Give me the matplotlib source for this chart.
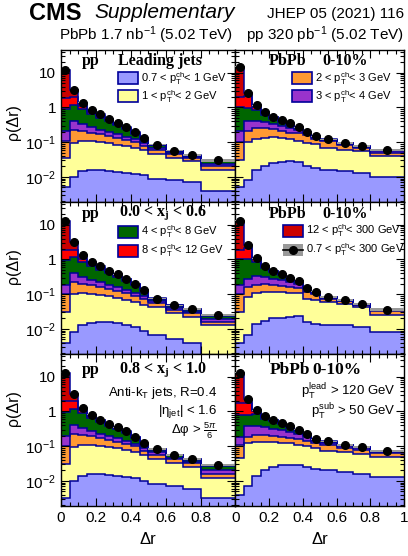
import numpy as np
import matplotlib.pyplot as plt
from matplotlib.patches import Rectangle
from matplotlib.lines import Line2D
from matplotlib.ticker import MultipleLocator, LogLocator, FuncFormatter, NullFormatter

plt.rcParams['font.family'] = ['Liberation Sans', 'DejaVu Sans']
plt.rcParams['mathtext.fontset'] = 'custom'
plt.rcParams['mathtext.rm'] = 'Liberation Sans'
plt.rcParams['mathtext.it'] = 'Liberation Sans:italic'
plt.rcParams['mathtext.bf'] = 'Liberation Sans:bold'

# delta r binning
dr_edges = [0, .05, .1, .15, .2, .25, .3, .35, .4, .45, .5, .6, .7, .8, 1.0]

pt_bins = ['0.7 < p$_{\\rm T}^{\\rm ch}$< 1 GeV', '1 < p$_{\\rm T}^{\\rm ch}$< 2 GeV',
           '2 < p$_{\\rm T}^{\\rm ch}$< 3 GeV', '3 < p$_{\\rm T}^{\\rm ch}$< 4 GeV',
           '4 < p$_{\\rm T}^{\\rm ch}$< 8 GeV', '8 < p$_{\\rm T}^{\\rm ch}$< 12 GeV',
           '12 < p$_{\\rm T}^{\\rm ch}$< 300 GeV']
all_label = '0.7 < p$_{\\rm T}^{\\rm ch}$< 300 GeV'
colors = ['#9999ff', '#ffff99', '#ff9933', '#9933cc', '#006600', '#ff0000', '#cc0000']
navy = '#000099'

# ---- pp, leading jets
pp_lead = [
    [.005, .010, .015, .016, .016, .015, .014, .013, .012, .011, .009, .008, .007, .004],
    [.030, .085, .095, .089, .084, .077, .071, .064, .056, .047, .036, .028, .022, .012],
    [.072, .135, .10, .085, .07, .058, .045, .038, .030, .022, .013, .010, .005, .004],
    [.103, .18, .12, .08, .06, .05, .04, .03, .022, .015, .009, .004, .003, .003],
    [.70, .79, .57, .38, .27, .20, .14, .095, .055, .025, .015, .005, .003, .005],
    [.99, .8, .2, .1, .07, .05, .035, .022, .013, .006, .002, .001, .001, .001],
    [10.1, 1.2, .28, .1, .06, .03, .015, .008, .007, .004, .001, .001, .001, .001]]
pp_lead_data = [12, 3.2, 1.38, 0.85, 0.63, 0.48, 0.36, 0.27, 0.195, 0.13, 0.085, 0.057, 0.042, 0.030]

# ---- PbPb 0-10%, leading jets
pbpb_lead = [
    [.005, .008, .016, .021, .025, .027, .028, .027, .020, .018, .016, .015, .013, .010],
    [.026, .092, .104, .109, .115, .108, .092, .083, .075, .068, .054, .046, .041, .030],
    [.069, .11, .14, .12, .10, .075, .07, .07, .065, .039, .035, .024, .013, .010],
    [.11, .19, .14, .14, .10, .08, .07, .05, .025, .015, .008, .005, .005, .006],
    [.79, .55, .45, .23, .13, .10, .06, .03, .01, .007, .005, .004, .003, .002],
    [1.0, 1.15, .15, .08, .05, .03, .02, .007, .003, .002, .001, .001, .001, .001],
    [13, .5, .15, .04, .02, .01, .01, .003, .002, .001, .001, .001, .0005, .0005]]
pbpb_lead_data = [15, 2.6, 1.15, .74, .54, .43, .35, .27, .20, .15, .12, .096, .076, .059]

# ---- pp, 0.0 < xj < 0.6
pp_xj1 = [
    [.004, .008, .013, .015, .016, .016, .015, .013, .011, .009, .0066, .005, .004, .0017],
    [.027, .092, .092, .085, .079, .072, .065, .057, .049, .041, .0364, .023, .018, .0109],
    [.073, .13, .095, .08, .065, .052, .04, .035, .03, .025, .012, .008, .006, .0034],
    [.076, .17, .12, .08, .06, .05, .04, .03, .02, .015, .008, .005, .003, .003],
    [.80, .75, .53, .37, .28, .21, .16, .11, .07, .035, .01, .006, .005, .005],
    [.92, .75, .2, .11, .07, .05, .035, .025, .015, .007, .002, .001, .001, .001],
    [10.6, 1.3, .3, .11, .06, .03, .015, .01, .005, .003, .0005, .0005, .0005, .0005]]
pp_xj1_data = [12.5, 3.2, 1.35, 0.85, 0.63, 0.48, 0.37, 0.28, 0.2, 0.135, 0.075, 0.048, 0.037, 0.025]

# ---- PbPb 0-10%, 0.0 < xj < 0.6
pbpb_xj1 = [
    [.004, .0065, .014, .017, .02, .021, .022, .023, .016, .014, .013, .013, .011, .008],
    [.027, .0765, .096, .098, .095, .091, .088, .082, .059, .056, .047, .04, .032, .018],
    [.069, .077, .08, .085, .075, .058, .05, .045, .04, .03, .015, .009, .005, .007],
    [.08, .12, .14, .11, .08, .08, .06, .05, .025, .01, .005, .003, .002, .002],
    [.82, .72, .52, .27, .17, .11, .07, .035, .008, .006, .002, .001, .0005, .0005],
    [.9, 1.1, .15, .05, .02, .015, .007, .003, .001, .001, .001, .001, .001, .001],
    [11.1, .5, .07, .02, .01, .005, .003, .002, .001, .0005, .0005, .0005, .0005, .0005]]
pbpb_xj1_data = [13, 2.6, 1.07, .65, .47, .38, .30, .24, .15, .117, .083, .067, .051, .036]

# ---- pp, 0.8 < xj < 1.0
pp_xj2 = [
    [.0033, .0098, .014, .016, .016, .015, .014, .013, .012, .010, .008, .007, .006, .0033],
    [.028, .085, .095, .09, .085, .078, .072, .064, .056, .045, .035, .026, .02, .009],
    [.07, .13, .10, .085, .07, .055, .045, .038, .03, .02, .014, .009, .006, .004],
    [.10, .18, .12, .08, .06, .045, .04, .03, .02, .015, .009, .005, .004, .004],
    [.75, .8, .55, .37, .26, .18, .14, .1, .055, .025, .014, .007, .005, .007],
    [1.0, .8, .2, .1, .06, .04, .03, .018, .012, .003, .002, .001, .0005, .001],
    [11.0, 1.1, .18, .07, .03, .017, .009, .007, .005, .002, .001, .001, .0005, .0007]]
pp_xj2_data = [13, 3.1, 1.26, 0.81, 0.58, 0.43, 0.35, 0.27, 0.19, 0.12, 0.083, 0.056, 0.042, 0.029]

# ---- PbPb 0-10%, 0.8 < xj < 1.0
pbpb_xj2 = [
    [.004, .007, .014, .02, .026, .029, .029, .028, .025, .022, .02, .018, .016, .0134],
    [.041, .113, .116, .11, .104, .096, .091, .082, .075, .068, .055, .05, .044, .0366],
    [.065, .07, .08, .08, .07, .065, .055, .05, .04, .03, .03, .022, .02, .013],
    [.08, .18, .16, .14, .12, .11, .085, .07, .04, .025, .02, .013, .008, .005],
    [.62, .43, .48, .27, .20, .13, .085, .055, .03, .012, .01, .005, .004, .004],
    [.95, .9, .15, .08, .05, .03, .015, .01, .007, .002, .001, .001, .001, .001],
    [11.2, .65, .07, .03, .01, .01, .01, .005, .003, .001, .001, .001, .001, .0005]]
pbpb_xj2_data = [13, 2.35, 1.07, .73, .58, .47, .37, .30, .22, .16, .137, .11, .094, .073]

sys_rel = [.02, .02, .02, .02, .02, .02, .02, .02, .03, .03, .04, .05, .06, .08]

W, H = 408.0, 556.0
fig = plt.figure(figsize=(W / 100, H / 100), dpi=100)


def fx(x):
    return x / W


def fy(y):
    return 1 - y / H


cols = [(61, 235.5), (235.5, 404)]
rows = [(50, 202), (202, 354), (354, 506)]
panels = [[(pp_lead, pp_lead_data), (pbpb_lead, pbpb_lead_data)],
          [(pp_xj1, pp_xj1_data), (pbpb_xj1, pbpb_xj1_data)],
          [(pp_xj2, pp_xj2_data), (pbpb_xj2, pbpb_xj2_data)]]

edges = np.array(dr_edges)
centers = 0.5 * (edges[1:] + edges[:-1])
widths = np.diff(edges)

ylab = {10: '10', 1: '1', 0.1: '$10^{-1}$', 0.01: '$10^{-2}$'}

for r, (y0, y1) in enumerate(rows):
    for c, (x0, x1) in enumerate(cols):
        comps, data = panels[r][c]
        ax = fig.add_axes([fx(x0), fy(y1), (x1 - x0) / W, (y1 - y0) / H])
        ax.set_yscale('log')
        base = np.full(len(centers), 1e-5)
        tops = []
        for comp, col in zip(comps, colors):
            top = base + np.array(comp)
            ax.stairs(top, edges, baseline=base, fill=True, color=col, lw=0)
            tops.append(top)
            base = top
        for top in tops:
            ax.stairs(top, edges, baseline=None, color=navy, lw=1.1)
        d = np.array(data)
        err = d * np.array(sys_rel)
        ax.bar(centers, 2 * err, bottom=d - err, width=widths, color='#999999', lw=0, zorder=3)
        ax.plot(centers, d, 'o', color='black', ms=5.5, zorder=4)

        ax.set_xlim(0, 1)
        ax.set_ylim(0.0019, 45)
        ax.xaxis.set_major_locator(MultipleLocator(0.2))
        ax.xaxis.set_minor_locator(MultipleLocator(0.05))
        ax.yaxis.set_major_locator(LogLocator(base=10, numticks=10))
        ax.yaxis.set_minor_locator(LogLocator(base=10, subs=np.arange(2, 10), numticks=10))
        ax.yaxis.set_minor_formatter(NullFormatter())
        ax.tick_params(which='both', direction='in', top=True, right=True, labelsize=11, width=0.8)
        ax.tick_params(which='major', length=6)
        ax.tick_params(which='minor', length=3)
        for s in ax.spines.values():
            s.set_linewidth(1.0)
        if c == 0:
            ax.yaxis.set_major_formatter(FuncFormatter(lambda v, p: ylab.get(round(v, 6), '')))
        else:
            ax.set_yticklabels([])
        if r == 2:
            if c == 0:
                ax.xaxis.set_major_formatter(FuncFormatter(lambda v, p: '' if v > 0.9 else '%g' % v))
            else:
                ax.xaxis.set_major_formatter(FuncFormatter(lambda v, p: '%g' % v))
        else:
            ax.set_xticklabels([])

# header
fig.text(fx(29), fy(13), 'CMS', fontsize=17, fontweight='bold', va='center', ha='left')
fig.text(fx(94), fy(13), 'Supplementary', fontsize=15, style='italic', va='center', ha='left')
fig.text(fx(404), fy(14), 'JHEP 05 (2021) 116', fontsize=11, va='center', ha='right')
fig.text(fx(59), fy(35), 'PbPb 1.7 nb$^{-1}$ (5.02 TeV)', fontsize=11, va='center', ha='left')
fig.text(fx(404), fy(35), 'pp 320 pb$^{-1}$ (5.02 TeV)', fontsize=11, va='center', ha='right')

# axis titles
for yc in [122, 266, 408]:
    fig.text(fx(13), fy(yc), 'ρ(Δr)', fontsize=11.5, rotation=90, va='center', ha='center')
for xc in [148, 320]:
    fig.text(fx(xc), fy(540), 'Δr', fontsize=12, va='center', ha='center')

# panel titles
serif = dict(family='Liberation Serif', fontweight='bold', va='center', ha='left',
             math_fontfamily='stix')
fig.text(fx(82), fy(61), 'pp', fontsize=11.5, **serif)
fig.text(fx(118), fy(61), 'Leading jets', fontsize=11.5, **serif)
fig.text(fx(269), fy(61), 'PbPb', fontsize=11.5, **serif)
fig.text(fx(322), fy(61), '0-10%', fontsize=11.5, **serif)
fig.text(fx(82), fy(214), 'pp', fontsize=11.5, **serif)
fig.text(fx(119), fy(214), '0.0 < x$_{\\mathbf{j}}$ < 0.6', fontsize=11.5, **serif)
fig.text(fx(269), fy(214), 'PbPb', fontsize=11.5, **serif)
fig.text(fx(322), fy(214), '0-10%', fontsize=11.5, **serif)
fig.text(fx(82), fy(370), 'pp', fontsize=11.5, **serif)
fig.text(fx(119), fy(370), '0.8 < x$_{\\mathbf{j}}$ < 1.0', fontsize=11.5, **serif)
fig.text(fx(270), fy(370), 'PbPb', fontsize=12.5, **serif)
fig.text(fx(312), fy(370), '0-10%', fontsize=12.5, **serif)


# legends
def box(x, y, i):
    fig.add_artist(Rectangle((fx(x), fy(y + 6)), 20 / W, 12 / H, transform=fig.transFigure,
                             facecolor=colors[i], edgecolor=navy, lw=1.2))


leg = dict(fontsize=8, va='center', ha='left')
box(118, 78, 0)
fig.text(fx(141), fy(79), pt_bins[0], **leg)
box(118, 96, 1)
fig.text(fx(141), fy(97), pt_bins[1], **leg)
box(292, 78, 2)
fig.text(fx(315), fy(79), pt_bins[2], **leg)
box(292, 96, 3)
fig.text(fx(315), fy(97), pt_bins[3], **leg)
box(118, 232, 4)
fig.text(fx(141), fy(232), pt_bins[4], **leg)
box(118, 251, 5)
fig.text(fx(141), fy(251), pt_bins[5], **leg)
box(283, 231, 6)
fig.text(fx(306), fy(231), pt_bins[6], **leg)
fig.add_artist(Rectangle((fx(283), fy(256)), 20 / W, 12 / H, transform=fig.transFigure,
                         facecolor='#999999', edgecolor='none'))
fig.add_artist(Line2D([fx(283), fx(303)], [fy(250), fy(250)], transform=fig.transFigure,
                      color='black', lw=1.2))
fig.add_artist(Line2D([fx(293)], [fy(250)], transform=fig.transFigure, marker='o',
                      color='black', ms=5.5))
fig.text(fx(306), fy(250), all_label, **leg)

# selection text
sel = dict(fontsize=9.5, va='center', ha='right')
fig.text(fx(217), fy(393), 'Anti-k$_{\\rm T}$ jets, R=0.4', **sel)
fig.text(fx(217), fy(412), '|η$_{\\rm jet}$| < 1.6', **sel)
fig.text(fx(217), fy(431), 'Δφ > $\\frac{5π}{6}$', **sel)
fig.text(fx(396), fy(392), 'p$_{\\rm T}^{\\rm lead}$ > 120 GeV', **sel)
fig.text(fx(396), fy(412), 'p$_{\\rm T}^{\\rm sub}$ > 50 GeV', **sel)

fig.savefig('out.png', dpi=100)
